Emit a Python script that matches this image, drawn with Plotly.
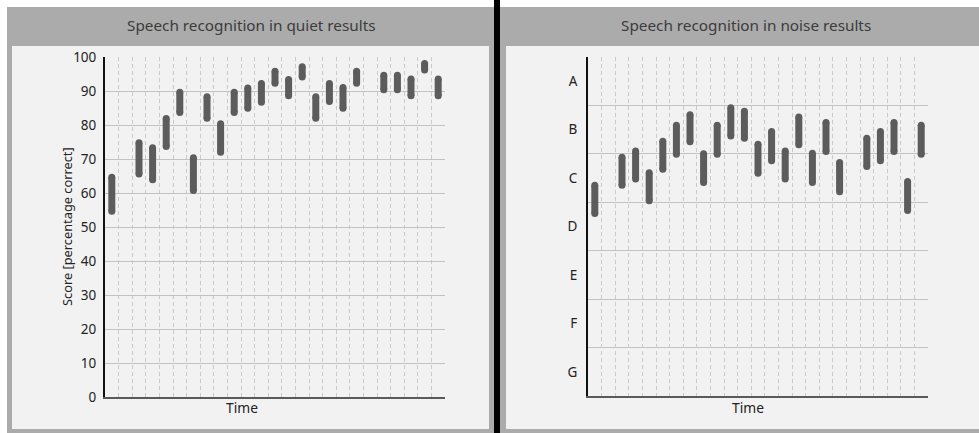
import plotly.graph_objects as go

# ---- data ----
columns = list(range(25))
quiet_low = [54.6, None, 65.6, 63.9, 73.7, 83.7, 60.7, 82.0, 72.0, 83.7, 84.9, 86.7, 92.3, 88.6,
             94.1, 82.0, 86.9, 84.9, 92.3, None, 90.4, 90.4, 88.6, 96.2, 88.6]
quiet_high = [64.6, None, 74.8, 73.3, 81.9, 89.6, 70.4, 88.3, 80.4, 89.6, 90.9, 92.2, 95.8, 93.4,
              97.1, 88.3, 92.2, 91.0, 95.8, None, 94.6, 94.6, 93.5, 98.1, 93.5]
noise_low = [3.77, None, 4.35, 4.48, 4.03, 4.68, 4.99, 5.25, 4.41, 4.99, 5.37, 5.32, 4.60, 4.86,
             4.48, 5.19, 4.41, 5.05, 4.22, None, 4.74, 4.86, 5.05, 3.83, 4.99]
noise_high = [4.35, None, 4.93, 5.06, 4.61, 5.26, 5.59, 5.81, 5.00, 5.59, 5.95, 5.88, 5.20, 5.46,
              5.06, 5.76, 5.01, 5.65, 4.82, None, 5.32, 5.46, 5.65, 4.43, 5.59]
grade_labels = ["G", "F", "E", "D", "C", "B", "A"]
quiet_ticks = list(range(0, 101, 10))

W, H = 979, 433
BAR = "#5c5c5c"
PANEL = "#f2f2f2"
HEADER = "#ababab"
GRID = "#c2c2c2"
VGRID = "#cacaca"


def segs(lo, hi):
    xs, ys = [], []
    for c, a, b in zip(columns, lo, hi):
        if a is None or b is None:
            continue
        xs += [c, c, None]
        ys += [a, b, None]
    return xs, ys


def px(x):
    return x / W


def py(y):
    return 1 - y / H


fig = go.Figure()
qx, qy = segs(quiet_low, quiet_high)
nx, ny = segs(noise_low, noise_high)
style = dict(mode="lines+markers", line=dict(color=BAR, width=7),
             marker=dict(color=BAR, size=7, symbol="circle"), showlegend=False,
             hoverinfo="skip")
fig.add_trace(go.Scatter(x=qx, y=qy, xaxis="x", yaxis="y", **style))
fig.add_trace(go.Scatter(x=nx, y=ny, xaxis="x2", yaxis="y2", **style))

half_cols = [c + 0.5 for c in columns]
xcommon = dict(range=[-0.5, 24.5], tickvals=half_cols, showticklabels=False, ticks="",
               showgrid=True, gridcolor=VGRID, gridwidth=1, griddash="4px,3px",
               showline=True, linecolor="#5a5a5a", linewidth=2, zeroline=False,
               fixedrange=True, automargin=False)

fig.update_layout(
    width=W, height=H, autosize=False,
    margin=dict(l=0, r=0, t=0, b=0, pad=0, autoexpand=False),
    paper_bgcolor="white", plot_bgcolor="rgba(0,0,0,0)", hovermode=False,
    font=dict(family="Noto Sans", size=13, color="#222222"),
    xaxis=dict(domain=[px(105), px(445)], anchor="y", **xcommon),
    xaxis2=dict(domain=[px(588), px(928)], anchor="y2", **xcommon),
    yaxis=dict(domain=[py(397), py(57)], anchor="x", range=[0, 100], tickvals=quiet_ticks,
               showgrid=True, gridcolor=GRID, gridwidth=1, zeroline=False,
               showline=True, linecolor="#111111", linewidth=2, ticks="",
               ticklabelstandoff=4, fixedrange=True, automargin=False,
               tickfont=dict(size=13.5)),
    yaxis2=dict(domain=[py(396), py(57)], anchor="x2", range=[0, 7],
                tickvals=[i + 0.5 for i in range(7)], ticktext=grade_labels,
                showgrid=False, zeroline=False, showline=True, linecolor="#111111",
                linewidth=2, ticks="", ticklabelstandoff=6, fixedrange=True,
                automargin=False, tickfont=dict(size=13.5),
                minor=dict(tickmode="array", tickvals=[1, 2, 3, 4, 5, 6, 7], showgrid=True,
                           gridcolor=GRID, gridwidth=1, ticks="")),
)

shapes = [
    # left panel
    dict(type="rect", xref="paper", yref="paper", x0=px(7), x1=px(494), y0=py(433), y1=py(7),
         fillcolor=HEADER, line=dict(width=0), layer="below"),
    dict(type="rect", xref="paper", yref="paper", x0=px(12), x1=px(489), y0=py(429), y1=py(46),
         fillcolor=PANEL, line=dict(width=0), layer="below"),
    # divider
    dict(type="rect", xref="paper", yref="paper", x0=px(494), x1=px(500), y0=py(433), y1=py(0),
         fillcolor="#000000", line=dict(width=0), layer="below"),
    # right panel
    dict(type="rect", xref="paper", yref="paper", x0=px(500), x1=px(979), y0=py(433), y1=py(7),
         fillcolor=HEADER, line=dict(width=0), layer="below"),
    dict(type="rect", xref="paper", yref="paper", x0=px(506), x1=px(979), y0=py(429), y1=py(46),
         fillcolor=PANEL, line=dict(width=0), layer="below"),
]
fig.update_layout(shapes=shapes)

ann = [
    dict(text="Speech recognition in quiet results", x=px(251), y=py(25), font=dict(size=15.3, color="#3c3c3c")),
    dict(text="Speech recognition in noise results", x=px(746), y=py(25), font=dict(size=15.3, color="#3c3c3c")),
    dict(text="Time", x=px(242), y=py(407), font=dict(size=13.8, color="#222222")),
    dict(text="Time", x=px(748), y=py(407), font=dict(size=13.8, color="#222222")),
    dict(text="Score [percentage correct]", x=px(67), y=py(227), textangle=-90,
         font=dict(size=12.8, color="#222222")),
]
for a in ann:
    a.update(xref="paper", yref="paper", showarrow=False, xanchor="center", yanchor="middle")
fig.update_layout(annotations=ann)

fig.write_html("out.html", config={"displayModeBar": False, "responsive": False},
               post_script="document.body.style.margin='0';document.body.style.overflow='hidden';")
